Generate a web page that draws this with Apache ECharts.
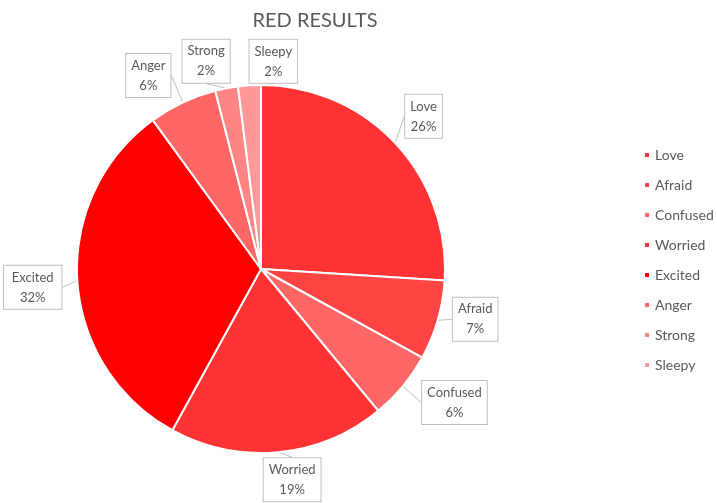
<!DOCTYPE html>
<html>
<head>
<meta charset="utf-8">
<script src="https://cdn.jsdelivr.net/npm/echarts@6/dist/echarts.min.js"></script>
<style>
  html, body { margin: 0; padding: 0; background: #fff; }
  #chart { width: 717px; height: 503px; }
</style>
</head>
<body>
<div id="chart"></div>
<script>
// Emotion categories and their shares (%)
const categories = ['Love', 'Afraid', 'Confused', 'Worried', 'Excited', 'Anger', 'Strong', 'Sleepy'];
const shares = [26, 7, 6, 19, 32, 6, 2, 2];
const sliceColors = ['#FF3333', '#FF4444', '#FF6666', '#FF3333', '#FF0000', '#FF6666', '#FF8585', '#FF9999'];

const cx = 261, cy = 269, radius = 184;
// callout placement: angular nudge (degrees) and distance from the centre
const labelNudge = [0, -3, -5, -3, -1, -5, -4, 7];
const labelDist = [223, 220, 235, 213, 229, 224, 215, 208];

const total = shares.reduce((a, b) => a + b, 0);
// middle angle of each slice, clockwise from 12 o'clock
const midAngles = [];
let acc = 0;
shares.forEach(v => {
  midAngles.push((acc + v / 2) / total * 2 * Math.PI);
  acc += v;
});

const chart = echarts.init(document.getElementById('chart'));
chart.setOption({
  backgroundColor: '#ffffff',
  title: {
    text: 'RED RESULTS',
    left: 310,
    textAlign: 'center',
    top: 6,
    textStyle: { fontFamily: 'Lato', fontSize: 20, fontWeight: 'normal', color: '#595959' }
  },
  legend: {
    orient: 'vertical',
    left: 638,
    top: 143,
    itemWidth: 6,
    itemHeight: 6,
    itemGap: 16,
    icon: 'rect',
    data: categories,
    textStyle: { fontFamily: 'Lato', fontSize: 14, color: '#595959' }
  },
  series: [{
    type: 'pie',
    center: [cx, cy],
    radius: radius,
    startAngle: 90,
    clockwise: true,
    animation: false,
    silent: true,
    itemStyle: { borderColor: '#ffffff', borderWidth: 2 },
    label: {
      show: true,
      position: 'outside',
      formatter: p => p.name + '\n' + p.value + '%',
      fontFamily: 'Lato',
      fontSize: 13,
      lineHeight: 20,
      color: '#595959',
      backgroundColor: '#ffffff',
      borderColor: '#BFBFBF',
      borderWidth: 1,
      padding: [2, 5, 1, 5],
      align: 'center'
    },
    labelLine: {
      show: true,
      length: 10,
      length2: 0,
      lineStyle: { color: '#BFBFBF', width: 1 }
    },
    labelLayout: function (params) {
      const i = params.dataIndex;
      const a = midAngles[i] + labelNudge[i] * Math.PI / 180;
      return {
        x: cx + labelDist[i] * Math.sin(a),
        y: cy - labelDist[i] * Math.cos(a),
        align: 'center',
        verticalAlign: 'middle'
      };
    },
    data: categories.map((name, i) => ({
      name: name,
      value: shares[i],
      itemStyle: { color: sliceColors[i] }
    }))
  }]
});
</script>
</body>
</html>
